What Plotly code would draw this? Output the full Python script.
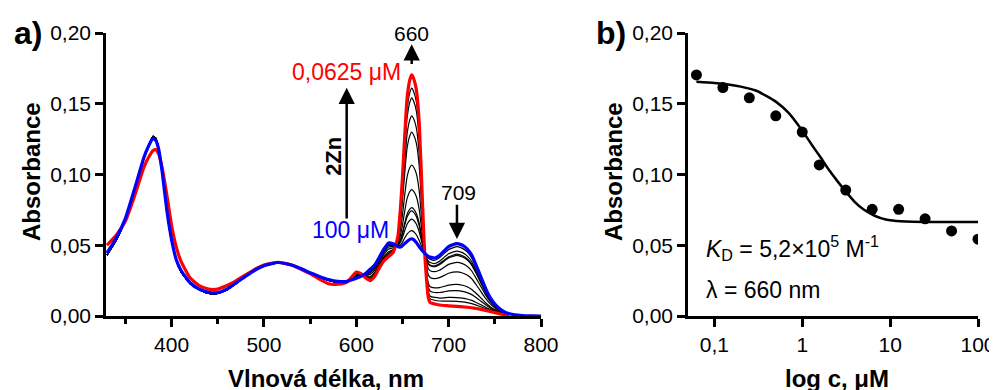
import plotly.graph_objects as go

# ---------------- Panel a data ----------------
wavelength = [330, 340, 350, 360, 370, 375, 380, 383, 386, 390,
              395, 400, 405, 410, 420, 430, 440, 450, 460, 470,
              480, 490, 500, 515, 530, 540, 550, 560, 570, 580,
              590, 600, 605, 610, 615, 620, 625, 630, 635, 640,
              645, 648, 650, 652, 655, 658, 660, 662, 665, 668,
              670, 672, 674, 676, 678, 680, 685, 690, 695, 700,
              709, 715, 720, 725, 730, 735, 740, 745, 750, 755,
              760, 765, 770, 780, 790, 800]

abs_blue_100uM = [0.0445, 0.055, 0.069, 0.090, 0.112, 0.120, 0.1255, 0.124, 0.118, 0.101,
                  0.074, 0.054, 0.040, 0.0325, 0.0235, 0.019, 0.0168, 0.0165, 0.019, 0.0235,
                  0.028, 0.0323, 0.0355, 0.0378, 0.036, 0.0335, 0.0305, 0.028, 0.0258, 0.0245,
                  0.0245, 0.0266, 0.028, 0.030, 0.033, 0.036, 0.0416, 0.0474, 0.0516, 0.051,
                  0.049, 0.0488, 0.0497, 0.051, 0.0527, 0.0542, 0.0546, 0.054, 0.052, 0.049,
                  0.0474, 0.0458, 0.0445, 0.0432, 0.0422, 0.0416, 0.041, 0.0428, 0.046, 0.049,
                  0.0512, 0.050, 0.0475, 0.043, 0.0355, 0.0275, 0.0195, 0.013, 0.0085, 0.0053,
                  0.003, 0.0017, 0.001, 0.0003, 0.0001, 0.0]

abs_red_00625uM = [0.050, 0.057, 0.067, 0.085, 0.105, 0.112, 0.117, 0.1175, 0.1145, 0.104,
                   0.085, 0.064, 0.049, 0.039, 0.027, 0.0215, 0.019, 0.019, 0.0215, 0.025,
                   0.029, 0.033, 0.036, 0.038, 0.036, 0.033, 0.030, 0.026, 0.0228, 0.0225,
                   0.024, 0.031, 0.030, 0.027, 0.025, 0.028, 0.034, 0.039, 0.042, 0.045,
                   0.056, 0.078, 0.098, 0.122, 0.154, 0.167, 0.1704, 0.168, 0.160, 0.138,
                   0.108, 0.075, 0.045, 0.026, 0.013, 0.0095, 0.0085, 0.0078, 0.0074, 0.0072,
                   0.0068, 0.0065, 0.0062, 0.0058, 0.0053, 0.0047, 0.004, 0.0032, 0.0024, 0.0016,
                   0.0008, 0.0003]

# intermediate titration spectra: UV part (where they coincide, 330-580 nm) + visible part (590-765 nm)
abs_black_uv = [0.043, 0.0535, 0.068, 0.089, 0.111, 0.1205, 0.127, 0.1255, 0.118, 0.100,
                0.073, 0.053, 0.040, 0.0315, 0.023, 0.0185, 0.016, 0.016, 0.0185, 0.023,
                0.0278, 0.032, 0.0352, 0.0376, 0.0358, 0.0333, 0.0303, 0.0276, 0.0252, 0.024]

abs_black_vis_1 = [0.0240, 0.0307, 0.0298, 0.0272, 0.0256, 0.0286, 0.0346, 0.0397, 0.0428, 0.0455,
                   0.0554, 0.0757, 0.0941, 0.1163, 0.1459, 0.1580, 0.1611, 0.1589, 0.1514, 0.1309,
                   0.1032, 0.0727, 0.0450, 0.0274, 0.0153, 0.0121, 0.0111, 0.0106, 0.0105, 0.0105,
                   0.0104, 0.0100, 0.0095, 0.0088, 0.0077, 0.0065, 0.0052, 0.0040, 0.0029, 0.0019,
                   0.0010, 0.0004]
abs_black_vis_2 = [0.0241, 0.0304, 0.0297, 0.0274, 0.0261, 0.0291, 0.0351, 0.0402, 0.0433, 0.0458,
                   0.0550, 0.0739, 0.0912, 0.1121, 0.1398, 0.1512, 0.1542, 0.1520, 0.1449, 0.1255,
                   0.0995, 0.0709, 0.0449, 0.0284, 0.0171, 0.0140, 0.0131, 0.0127, 0.0128, 0.0131,
                   0.0130, 0.0126, 0.0120, 0.0110, 0.0095, 0.0079, 0.0062, 0.0046, 0.0033, 0.0021,
                   0.0011, 0.0005]
abs_black_vis_3 = [0.0241, 0.0299, 0.0295, 0.0278, 0.0270, 0.0300, 0.0359, 0.0411, 0.0444, 0.0465,
                   0.0543, 0.0707, 0.0859, 0.1043, 0.1287, 0.1388, 0.1415, 0.1395, 0.1330, 0.1158,
                   0.0929, 0.0677, 0.0449, 0.0303, 0.0203, 0.0175, 0.0166, 0.0166, 0.0171, 0.0177,
                   0.0179, 0.0174, 0.0165, 0.0151, 0.0129, 0.0104, 0.0079, 0.0057, 0.0039, 0.0025,
                   0.0014, 0.0007]
abs_black_vis_4 = [0.0242, 0.0295, 0.0293, 0.0281, 0.0278, 0.0308, 0.0367, 0.0419, 0.0454, 0.0471,
                   0.0536, 0.0678, 0.0811, 0.0972, 0.1186, 0.1275, 0.1299, 0.1281, 0.1222, 0.1069,
                   0.0868, 0.0648, 0.0448, 0.0320, 0.0232, 0.0207, 0.0199, 0.0201, 0.0209, 0.0218,
                   0.0223, 0.0217, 0.0207, 0.0188, 0.0159, 0.0127, 0.0094, 0.0066, 0.0045, 0.0029,
                   0.0016, 0.0008]
abs_black_vis_5 = [0.0243, 0.0286, 0.0289, 0.0287, 0.0294, 0.0324, 0.0382, 0.0436, 0.0473, 0.0483,
                   0.0522, 0.0619, 0.0714, 0.0830, 0.0983, 0.1050, 0.1067, 0.1053, 0.1006, 0.0891,
                   0.0747, 0.0589, 0.0447, 0.0355, 0.0291, 0.0272, 0.0264, 0.0271, 0.0286, 0.0302,
                   0.0312, 0.0304, 0.0289, 0.0263, 0.0219, 0.0172, 0.0125, 0.0086, 0.0058, 0.0036,
                   0.0020, 0.0011]
abs_black_vis_6 = [0.0244, 0.0279, 0.0286, 0.0291, 0.0306, 0.0336, 0.0393, 0.0449, 0.0487, 0.0492,
                   0.0511, 0.0576, 0.0642, 0.0723, 0.0831, 0.0880, 0.0893, 0.0882, 0.0844, 0.0757,
                   0.0656, 0.0546, 0.0447, 0.0380, 0.0334, 0.0320, 0.0313, 0.0323, 0.0344, 0.0365,
                   0.0379, 0.0370, 0.0351, 0.0318, 0.0264, 0.0207, 0.0149, 0.0101, 0.0067, 0.0042,
                   0.0023, 0.0013]
abs_black_vis_7 = [0.0244, 0.0274, 0.0284, 0.0294, 0.0315, 0.0345, 0.0402, 0.0458, 0.0498, 0.0499,
                   0.0503, 0.0544, 0.0589, 0.0645, 0.0720, 0.0756, 0.0766, 0.0757, 0.0725, 0.0659,
                   0.0589, 0.0514, 0.0446, 0.0399, 0.0367, 0.0355, 0.0348, 0.0362, 0.0387, 0.0411,
                   0.0428, 0.0417, 0.0397, 0.0359, 0.0298, 0.0232, 0.0166, 0.0111, 0.0073, 0.0046,
                   0.0026, 0.0014]
abs_black_vis_8 = [0.0244, 0.0273, 0.0283, 0.0295, 0.0316, 0.0346, 0.0403, 0.0460, 0.0500, 0.0500,
                   0.0502, 0.0538, 0.0579, 0.0631, 0.0699, 0.0734, 0.0743, 0.0734, 0.0704, 0.0641,
                   0.0577, 0.0508, 0.0446, 0.0403, 0.0372, 0.0361, 0.0355, 0.0369, 0.0394, 0.0419,
                   0.0437, 0.0426, 0.0405, 0.0367, 0.0304, 0.0236, 0.0169, 0.0113, 0.0075, 0.0047,
                   0.0026, 0.0015]
abs_black_vis_9 = [0.0244, 0.0271, 0.0282, 0.0296, 0.0320, 0.0350, 0.0407, 0.0464, 0.0505, 0.0503,
                   0.0498, 0.0523, 0.0555, 0.0595, 0.0649, 0.0677, 0.0685, 0.0677, 0.0650, 0.0597,
                   0.0547, 0.0493, 0.0446, 0.0411, 0.0387, 0.0378, 0.0371, 0.0386, 0.0414, 0.0440,
                   0.0459, 0.0448, 0.0425, 0.0385, 0.0319, 0.0248, 0.0176, 0.0118, 0.0078, 0.0049,
                   0.0027, 0.0015]
abs_black_vis_10 = [0.0245, 0.0268, 0.0281, 0.0299, 0.0326, 0.0356, 0.0412, 0.0470, 0.0511, 0.0507,
                    0.0494, 0.0503, 0.0521, 0.0546, 0.0578, 0.0598, 0.0604, 0.0597, 0.0574, 0.0535,
                    0.0504, 0.0473, 0.0445, 0.0423, 0.0407, 0.0400, 0.0394, 0.0411, 0.0441, 0.0469,
                    0.0490, 0.0478, 0.0454, 0.0411, 0.0340, 0.0264, 0.0187, 0.0125, 0.0082, 0.0051,
                    0.0029, 0.0016]

black_vis_sets = [abs_black_vis_1, abs_black_vis_2, abs_black_vis_3, abs_black_vis_4,
                  abs_black_vis_5, abs_black_vis_6, abs_black_vis_7, abs_black_vis_8,
                  abs_black_vis_9, abs_black_vis_10]

# ---------------- Panel b data ----------------
conc_uM = [0.0625, 0.125, 0.25, 0.5, 1, 1.5625, 3.125, 6.25, 12.5, 25, 50, 100]
abs_660 = [0.1704, 0.1614, 0.1542, 0.1415, 0.130, 0.1068, 0.089, 0.0754, 0.0754, 0.0687, 0.0601, 0.0543]

fit_conc = [0.0625, 0.1, 0.15, 0.2, 0.3, 0.5, 0.7, 1.0, 1.3, 1.6, 2.0, 2.5, 3.0, 4.0, 5.0,
            6.5, 8.0, 10, 15, 25, 50, 100]
fit_abs = [0.1655, 0.1646, 0.1634, 0.1621, 0.1592, 0.1515, 0.1435, 0.131, 0.1205, 0.1125,
           0.1035, 0.0955, 0.0893, 0.0803, 0.0752, 0.0712, 0.0690, 0.0676, 0.0667, 0.0664,
           0.0664, 0.0664]

y_ticks = [0, 0.05, 0.10, 0.15, 0.20]
y_ticktext = ["0,00", "0,05", "0,10", "0,15", "0,20"]
xa_ticks = [400, 500, 600, 700, 800]
xb_ticks = [0.1, 1, 10, 100]
xb_ticktext = ["0,1", "1", "10", "100"]

FONT = "Liberation Sans, Arial, sans-serif"

fig = go.Figure()

for vis in black_vis_sets:
    ys = abs_black_uv + vis
    fig.add_trace(go.Scatter(x=wavelength[:len(ys)], y=ys, mode="lines",
                             line=dict(color="black", width=1.2, shape="spline", smoothing=0.5),
                             xaxis="x", yaxis="y", showlegend=False, hoverinfo="skip"))

fig.add_trace(go.Scatter(x=wavelength[:len(abs_red_00625uM)], y=abs_red_00625uM, mode="lines",
                         line=dict(color="#ff0000", width=3.2, shape="spline", smoothing=0.5),
                         xaxis="x", yaxis="y", showlegend=False))
fig.add_trace(go.Scatter(x=wavelength, y=abs_blue_100uM, mode="lines",
                         line=dict(color="#0000ff", width=3.2, shape="spline", smoothing=0.5),
                         xaxis="x", yaxis="y", showlegend=False))

fig.add_trace(go.Scatter(x=fit_conc, y=fit_abs, mode="lines",
                         line=dict(color="black", width=2.5, shape="spline", smoothing=0.6),
                         xaxis="x2", yaxis="y2", showlegend=False))
fig.add_trace(go.Scatter(x=conc_uM, y=abs_660, mode="markers",
                         marker=dict(color="black", size=11),
                         xaxis="x2", yaxis="y2", showlegend=False))

# the page body has an 8 px margin: figure is 989x382, page pixel P -> figure pixel P-8
OFF = 8
W, H = 997 - OFF, 390 - OFF
def px(x): return (x - OFF) / W
def py(y): return 1 - (y - OFF) / H

axis_common = dict(showline=True, linecolor="black", linewidth=2.5, ticks="outside",
                   ticklen=8, tickwidth=2.5, tickcolor="black", showgrid=False, zeroline=False,
                   automargin=False,
                   tickfont=dict(family=FONT, size=21, color="black"))

fig.update_layout(
    width=W, height=H, margin=dict(l=0, r=0, t=0, b=0, autoexpand=False),
    paper_bgcolor="white", plot_bgcolor="white",
    xaxis=dict(domain=[px(106), px(541)], range=[329, 800], anchor="y",
               tickvals=xa_ticks, ticktext=[str(v) for v in xa_ticks],
               minor=dict(dtick=50, tick0=350, ticks="outside", ticklen=5, tickwidth=2.5, tickcolor="black"),
               **axis_common),
    yaxis=dict(domain=[py(316), py(33)], range=[0, 0.2], anchor="x",
               tickvals=y_ticks, ticktext=y_ticktext, **axis_common),
    xaxis2=dict(domain=[px(688), px(978)], type="log", range=[-1.3, 2.0], anchor="y2",
                tickvals=xb_ticks, ticktext=xb_ticktext, **axis_common),
    yaxis2=dict(domain=[py(316), py(33)], range=[0, 0.2], anchor="x2",
                tickvals=y_ticks, ticktext=y_ticktext, **axis_common),
)

ann = []
def A(**kw):
    base = dict(showarrow=False, xanchor="center", yanchor="middle",
                font=dict(family=FONT, size=20, color="black"))
    base.update(kw)
    ann.append(base)

# panel labels
A(text="<b>a)</b>", x=px(28), y=py(33), xref="paper", yref="paper",
  font=dict(family=FONT, size=32, color="black"))
A(text="<b>b)</b>", x=px(611), y=py(33), xref="paper", yref="paper",
  font=dict(family=FONT, size=32, color="black"))

# axis titles
A(text="<b>Absorbance</b>", x=px(31), y=py(172), xref="paper", yref="paper", textangle=-90,
  font=dict(family=FONT, size=24, color="black"))
A(text="<b>Absorbance</b>", x=px(613), y=py(172), xref="paper", yref="paper", textangle=-90,
  font=dict(family=FONT, size=24, color="black"))
A(text="<b>Vlnová délka, nm</b>", x=px(326), y=py(378), xref="paper", yref="paper",
  font=dict(family=FONT, size=24, color="black"))
A(text="<b>log c, μM</b>", x=px(837), y=py(378), xref="paper", yref="paper",
  font=dict(family=FONT, size=24, color="black"))

# panel a annotations
A(text="660", x=660, y=0.2, xref="x", yref="y",
  font=dict(family=FONT, size=21, color="black"))
ann.append(dict(x=660, y=0.192, ax=660, ay=0.177, xref="x", yref="y", axref="x", ayref="y",
                showarrow=True, arrowhead=2, arrowsize=1.3, arrowwidth=2.5, arrowcolor="black", text=""))
A(text="0,0625 μM", x=651, y=0.1724, xref="x", yref="y", xanchor="right",
  font=dict(family=FONT, size=23, color="#ff0000"))
ann.append(dict(x=589.6, y=0.1613, ax=589.6, ay=0.0678, xref="x", yref="y", axref="x", ayref="y",
                showarrow=True, arrowhead=2, arrowsize=1.3, arrowwidth=2.5, arrowcolor="black", text=""))
A(text="<b>2Zn</b>", x=575, y=0.1126, xref="x", yref="y", textangle=-90,
  font=dict(family=FONT, size=22, color="black"))
A(text="100 μM", x=593.3, y=0.0608, xref="x", yref="y",
  font=dict(family=FONT, size=23, color="#0000ff"))
A(text="709", x=710.5, y=0.087, xref="x", yref="y",
  font=dict(family=FONT, size=21, color="black"))
ann.append(dict(x=709, y=0.0545, ax=709, ay=0.0796, xref="x", yref="y", axref="x", ayref="y",
                showarrow=True, arrowhead=2, arrowsize=1.3, arrowwidth=2.5, arrowcolor="black", text=""))

# panel b annotations
A(text="<i>K</i><sub>D</sub> = 5,2×10<sup>5</sup> M<sup>-1</sup>", x=px(704), y=py(248),
  xref="paper", yref="paper", xanchor="left", font=dict(family=FONT, size=23, color="black"))
A(text="λ = 660 nm", x=px(704), y=py(290), xref="paper", yref="paper", xanchor="left",
  font=dict(family=FONT, size=23, color="black"))

fig.update_layout(annotations=ann)
fig.write_html("out.html")
